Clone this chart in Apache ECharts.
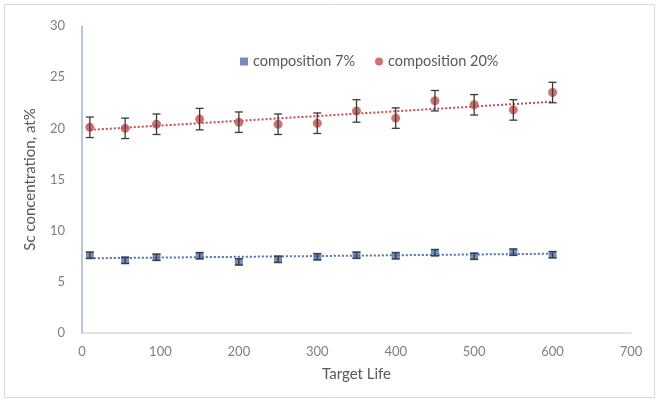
<!DOCTYPE html>
<html>
<head>
<meta charset="utf-8">
<script src="https://cdn.jsdelivr.net/npm/echarts@6/dist/echarts.min.js"></script>
<style>
html, body { margin: 0; padding: 0; background: #fff; }
#chart { width: 659px; height: 403px; }
</style>
</head>
<body>
<div id="chart"></div>
<script>
// 数据
var targetLife = [10, 55, 95, 150, 200, 250, 300, 350, 400, 450, 500, 550, 600];
var sc7 = [7.6, 7.1, 7.4, 7.55, 6.95, 7.2, 7.45, 7.6, 7.55, 7.85, 7.5, 7.9, 7.65];
var sc7Err = [0.3, 0.3, 0.3, 0.3, 0.3, 0.3, 0.3, 0.3, 0.3, 0.3, 0.3, 0.3, 0.3];
var sc20 = [20.1, 20.0, 20.4, 20.9, 20.6, 20.4, 20.5, 21.7, 21.0, 22.7, 22.3, 21.8, 23.5];
var sc20Err = [1.0, 1.0, 1.0, 1.05, 1.0, 1.0, 1.0, 1.1, 1.0, 1.0, 1.0, 1.0, 1.0];
var trendX = [10, 600];
var trend7 = [7.3, 7.75];
var trend20 = [19.85, 22.6];

var blue = '#4F72AE';
var red = '#C0504D';
var textColor = '#7f7f7f';
var font = 'Lato';

function pairs(xs, ys) {
    return xs.map(function (x, i) { return [x, ys[i]]; });
}

function errData(xs, ys, es) {
    return xs.map(function (x, i) { return [x, ys[i] - es[i], ys[i] + es[i]]; });
}

// 误差线
function renderErr(params, api) {
    var lo = api.coord([api.value(0), api.value(1)]);
    var hi = api.coord([api.value(0), api.value(2)]);
    var cap = 4;
    var style = { stroke: '#3a3a3a', lineWidth: 1.3 };
    return {
        type: 'group',
        children: [
            { type: 'line', shape: { x1: lo[0], y1: lo[1], x2: hi[0], y2: hi[1] }, style: style },
            { type: 'line', shape: { x1: lo[0] - cap, y1: lo[1], x2: lo[0] + cap, y2: lo[1] }, style: style },
            { type: 'line', shape: { x1: hi[0] - cap, y1: hi[1], x2: hi[0] + cap, y2: hi[1] }, style: style }
        ]
    };
}

var myChart = echarts.init(document.getElementById('chart'));

var option = {
    animation: false,
    textStyle: { fontFamily: font },
    graphic: [{
        type: 'rect',
        shape: { x: 4.5, y: 4.5, width: 650, height: 393 },
        style: { fill: 'none', stroke: '#d9d9d9', lineWidth: 1 },
        silent: true
    }],
    legend: {
        top: 49,
        left: 235,
        itemWidth: 8,
        itemHeight: 8,
        itemGap: 20,
        textStyle: { color: '#595959', fontSize: 14.5, fontFamily: font },
        data: [
            { name: 'composition 7%', icon: 'rect' },
            { name: 'composition 20%', icon: 'circle' }
        ]
    },
    grid: {
        left: 82,
        right: 28,
        top: 26,
        bottom: 70
    },
    xAxis: {
        type: 'value',
        min: 0,
        max: 700,
        interval: 100,
        name: 'Target Life',
        nameLocation: 'middle',
        nameGap: 34,
        nameTextStyle: { color: '#595959', fontSize: 15, fontFamily: font },
        axisLine: { show: true, lineStyle: { color: '#d9d9d9', width: 1.5 } },
        axisTick: { show: false },
        axisLabel: { color: textColor, fontSize: 13, margin: 12 },
        splitLine: { show: false }
    },
    yAxis: {
        type: 'value',
        min: 0,
        max: 30,
        interval: 5,
        name: 'Sc concentration, at%',
        nameLocation: 'middle',
        nameGap: 44,
        nameTextStyle: { color: '#595959', fontSize: 15, fontFamily: font },
        axisLine: { show: true, lineStyle: { color: '#9fb3d4', width: 1.5 } },
        axisTick: { show: false },
        axisLabel: { color: textColor, fontSize: 13, margin: 17 },
        splitLine: { show: false }
    },
    series: [{
        name: 'trend 7',
        type: 'line',
        data: pairs(trendX, trend7),
        symbol: 'none',
        lineStyle: { color: blue, width: 2, type: [2, 2] },
        z: 1
    }, {
        name: 'trend 20',
        type: 'line',
        data: pairs(trendX, trend20),
        symbol: 'none',
        lineStyle: { color: red, width: 2, type: [2, 2] },
        z: 1
    }, {
        name: 'composition 7%',
        type: 'scatter',
        symbol: 'rect',
        symbolSize: 8,
        itemStyle: { color: blue },
        data: pairs(targetLife, sc7),
        z: 3
    }, {
        name: 'composition 20%',
        type: 'scatter',
        symbol: 'circle',
        symbolSize: 9,
        itemStyle: { color: red },
        data: pairs(targetLife, sc20),
        z: 3
    }, {
        name: 'err 7',
        type: 'custom',
        renderItem: renderErr,
        data: errData(targetLife, sc7, sc7Err),
        z: 4
    }, {
        name: 'err 20',
        type: 'custom',
        renderItem: renderErr,
        data: errData(targetLife, sc20, sc20Err),
        z: 4
    }]
};

myChart.setOption(option);

window.addEventListener('resize', function () {
    myChart.resize();
});
</script>
</body>
</html>
